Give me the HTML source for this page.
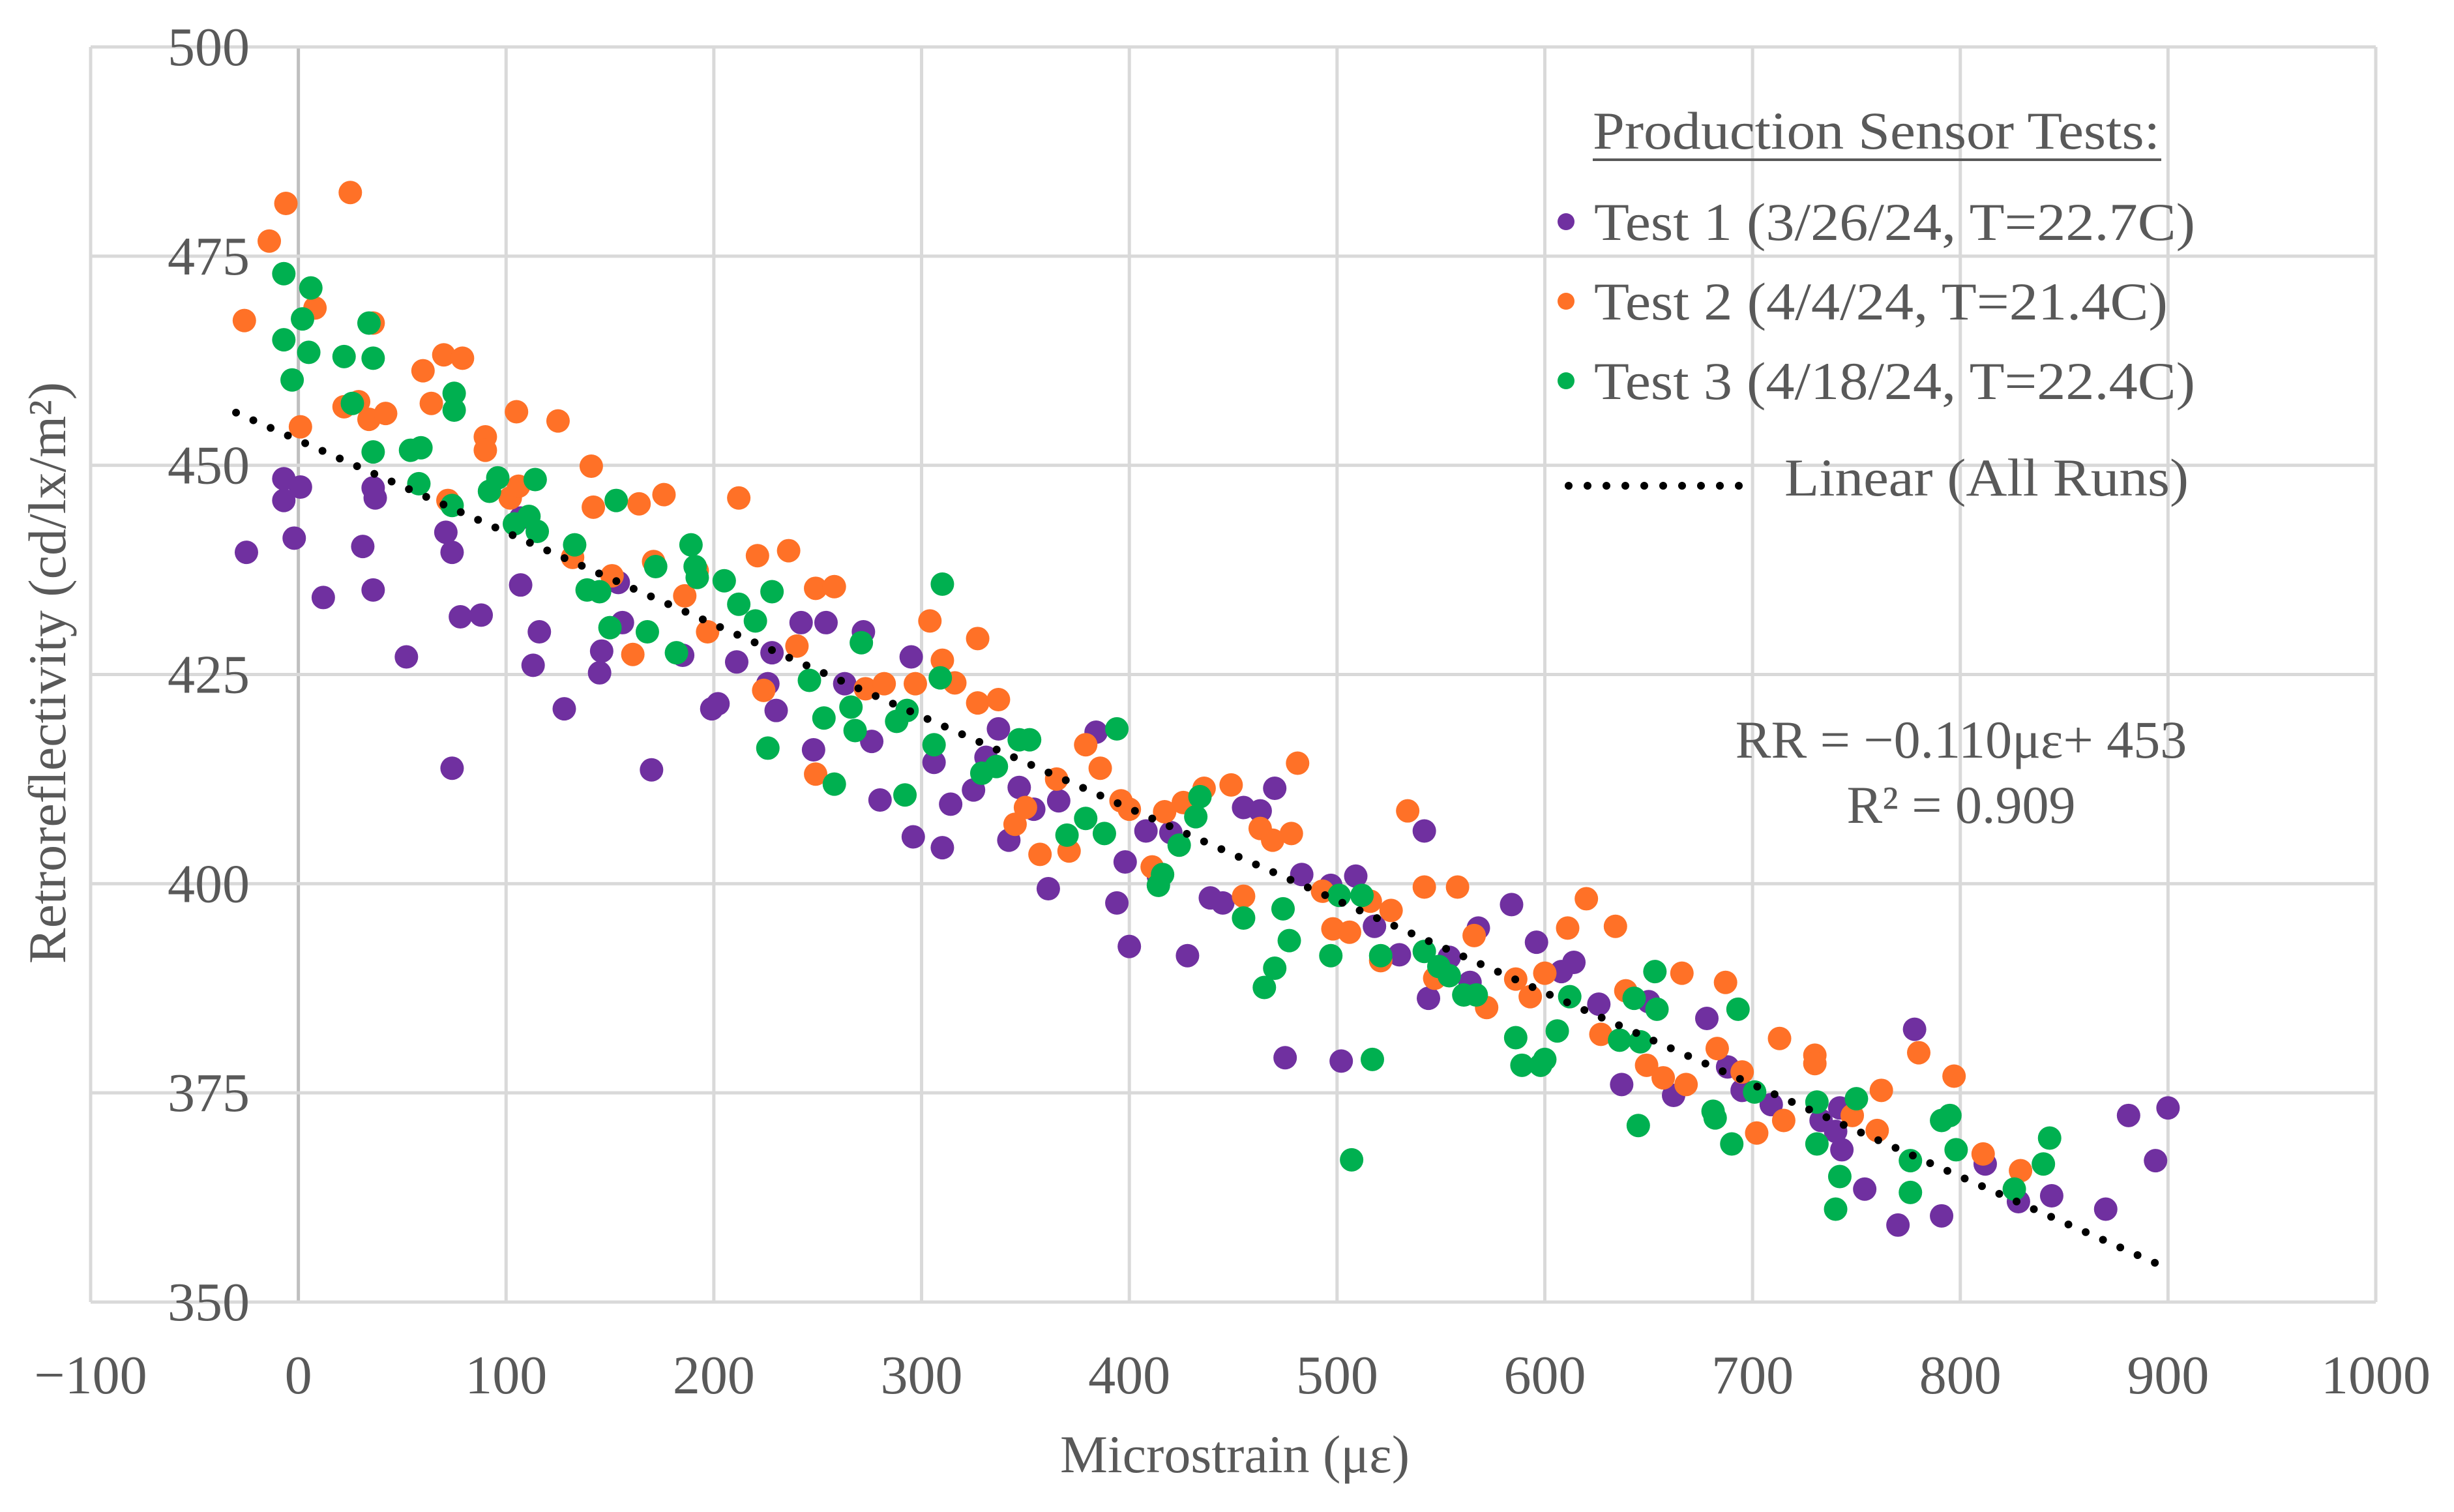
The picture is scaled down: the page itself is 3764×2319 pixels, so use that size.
<!DOCTYPE html>
<html><head><meta charset="utf-8"><style>
html,body{margin:0;padding:0;background:#fff;}
svg{display:block;font-family:"Liberation Serif",serif;}
</style></head>
<body>
<svg id="chart" width="3764" height="2319" viewBox="0 0 3764 2319" xmlns="http://www.w3.org/2000/svg">
<rect width="3764" height="2319" fill="#fff"/>
<g id="grid"></g>
<g id="ticks"></g>
<g id="trend"></g>
<g id="marks"></g>
<text x="0" y="0" transform="translate(100,1032) rotate(-90)" text-anchor="middle" font-size="82" fill="#595959">Retroreflectivity (cd/lx/m²)</text>
<text x="1894" y="2258" text-anchor="middle" font-size="82" fill="#595959">Microstrain (με)</text>
<g>
<text x="2443" y="228" font-size="82" fill="#595959" textLength="870" lengthAdjust="spacingAndGlyphs">Production Sensor Tests:</text>
<rect x="2443" y="243" width="872" height="4" fill="#595959"/>
<circle cx="2402" cy="340" r="13" fill="#7030A0"/>
<text x="2445" y="368" font-size="82" fill="#595959" textLength="922" lengthAdjust="spacingAndGlyphs">Test 1 (3/26/24, T=22.7C)</text>
<circle cx="2402" cy="462" r="13" fill="#FF7127"/>
<text x="2445" y="490" font-size="82" fill="#595959" textLength="880" lengthAdjust="spacingAndGlyphs">Test 2 (4/4/24, T=21.4C)</text>
<circle cx="2402" cy="584" r="13" fill="#00B050"/>
<text x="2445" y="612" font-size="82" fill="#595959" textLength="922" lengthAdjust="spacingAndGlyphs">Test 3 (4/18/24, T=22.4C)</text>
<line x1="2406" y1="745" x2="2676" y2="745" stroke="#000" stroke-width="12" stroke-linecap="round" stroke-dasharray="0 29"/>
<text x="2737" y="760" font-size="82" fill="#595959" textLength="620" lengthAdjust="spacingAndGlyphs">Linear (All Runs)</text>
</g>
<text x="3008" y="1162" text-anchor="middle" font-size="82" fill="#595959">RR = −0.110με+ 453</text>
<text x="3008" y="1262" text-anchor="middle" font-size="82" fill="#595959">R² = 0.909</text>
</svg>
<script>
const xTicks = [-100,0,100,200,300,400,500,600,700,800,900,1000];
const yTicks = [350,375,400,425,450,475,500];
const trendSlope = -0.110;
const trendIntercept = 453;
const trendRange = [-30, 900];

const test1X = [-25,-7,-7,1,-2,12,31,36,36,37,52,71,74,74,78,88,107,107,116,113,128,145,146,156,154,170,185,199,202,211,226,228,230,242,248,254,263,272,276,280,295,296,306,310,314,325,331,337,342,347,354,361,366,384,394,398,400,408,414,420,428,439,445,455,463,470,475,483,497,502,509,518,530,542,544,554,564,568,584,596,608,614,626,637,650,662,678,688,695,709,733,740,742,743,754,770,778,791,812,828,844,870,881,894,900];
const test1Y = [439.6,448.4,445.8,447.4,441.3,434.2,440.3,435.1,447.3,446.1,427.1,442.0,439.6,413.8,431.9,432.1,443.7,435.7,430.1,426.1,420.9,425.2,427.8,431.2,436.0,413.6,427.3,420.9,421.5,426.5,423.9,427.6,420.7,431.2,416.0,431.2,423.9,430.1,417.0,410.0,427.1,405.6,414.5,404.3,409.5,411.2,415.1,418.5,405.2,411.5,408.9,399.4,409.9,418.1,397.7,402.6,392.5,406.3,400.9,406.1,391.4,398.3,397.7,409.1,408.7,411.4,379.2,401.1,399.8,378.8,400.9,394.9,391.5,406.3,386.3,391.2,388.2,394.7,397.5,393.0,389.5,390.6,385.6,376.0,385.9,374.7,383.9,378.1,375.3,373.6,371.7,370.4,373.2,368.2,363.5,359.2,382.6,360.3,366.5,362.0,362.7,361.1,372.3,366.9,373.2,366.1,363.5,364.9];

const test2X = [-26,-14,-6,1,8,25,22,29,34,36,42,60,64,70,79,72,90,90,102,105,106,125,132,141,142,151,161,164,176,171,186,197,192,212,221,224,236,240,249,249,258,273,282,297,304,310,316,327,327,337,345,350,357,365,371,379,386,396,400,411,417,426,436,449,455,463,469,478,481,493,498,506,516,521,526,534,542,547,558,566,572,586,593,600,611,620,627,634,639,649,657,666,668,683,687,695,702,713,715,730,730,748,760,762,780,797,811,829];
const test2Y = [467.3,476.8,481.3,454.6,468.8,482.6,457.0,457.6,455.5,467.0,456.2,461.3,457.4,463.2,462.8,445.8,453.4,451.8,446.1,456.4,447.5,455.3,439.0,449.9,445.0,436.8,427.4,445.4,446.5,438.5,434.4,430.1,437.4,446.1,439.2,423.1,439.8,428.4,435.3,413.1,435.5,423.3,423.9,423.9,431.4,426.7,424.0,429.3,421.6,422.0,407.1,409.1,403.5,412.5,403.9,416.6,413.8,409.9,408.9,402.0,408.6,409.7,411.4,411.8,398.5,406.6,405.2,406.0,414.4,399.1,394.6,394.2,397.9,390.8,396.8,408.7,399.6,388.7,399.6,393.8,385.2,388.6,386.5,389.3,394.7,398.2,382.0,394.9,387.2,378.3,376.8,389.3,376.0,380.3,388.2,377.5,370.2,381.5,371.7,379.5,378.5,372.3,370.5,375.3,379.8,377.0,367.7,365.7];

const test3X = [-7,-7,-3,2,6,5,22,26,34,36,36,54,59,58,74,75,75,92,96,104,111,114,115,133,139,145,150,153,168,172,182,189,191,192,205,212,220,226,228,246,253,258,266,268,271,288,293,292,306,309,310,329,336,347,352,370,379,388,394,414,416,424,432,434,455,465,470,474,477,497,501,512,517,507,521,542,549,554,561,567,586,589,598,600,606,612,636,643,645,646,653,654,681,682,690,693,701,731,731,740,742,750,776,776,791,795,798,826,840,843];
const test3Y = [472.9,465.0,460.2,467.5,471.2,463.5,463.0,457.4,467.0,462.8,451.6,451.8,452.1,447.8,445.2,458.6,456.6,446.9,448.5,443.0,443.9,448.3,442.1,440.5,435.1,434.9,430.6,445.8,430.1,437.9,427.6,440.5,437.9,436.6,436.2,433.4,431.4,416.2,434.9,424.3,419.8,411.9,421.1,418.3,428.8,419.4,420.7,410.6,416.6,424.6,435.8,413.2,414.0,417.2,417.2,405.8,407.8,406.0,418.5,399.8,401.1,404.6,408.0,410.4,395.9,387.6,389.9,397.0,393.2,391.4,398.6,398.6,379.0,367.0,391.4,391.9,390.1,389.0,386.7,386.7,381.6,378.3,378.3,379.0,382.4,386.5,381.3,386.3,371.1,381.1,389.5,385.0,372.8,372.0,368.9,385.0,375.1,373.9,368.9,361.1,365.0,374.3,366.9,363.1,371.7,372.3,368.2,363.5,366.5,369.6];

const NS = 'http://www.w3.org/2000/svg';
const X0 = 139, X1 = 3644, Y0 = 1997, Y1 = 72;
const xMin = -100, xMax = 1000, yMin = 350, yMax = 500;
function sx(v){ return X0 + (v - xMin) / (xMax - xMin) * (X1 - X0); }
function sy(v){ return Y0 - (v - yMin) / (yMax - yMin) * (Y0 - Y1); }
function mk(tag, attrs, parent){
  const e = document.createElementNS(NS, tag);
  for (const k in attrs) e.setAttribute(k, attrs[k]);
  parent.appendChild(e);
  return e;
}
const grid = document.getElementById('grid');
const ticks = document.getElementById('ticks');
xTicks.forEach(t => {
  const l = mk('line', {x1: sx(t), x2: sx(t), y1: Y1, y2: Y0, stroke: t === 0 ? '#bfbfbf' : '#d9d9d9', 'stroke-width': 5}, grid);
  
  
  const tx = mk('text', {x: sx(t), y: 2137, 'text-anchor': 'middle', 'font-size': 84, fill: '#595959'}, ticks);
  tx.textContent = t < 0 ? '−' + Math.abs(t) : String(t);
  
  
});
yTicks.forEach(t => {
  const l = mk('line', {x1: X0, x2: X1, y1: sy(t), y2: sy(t), stroke: '#d9d9d9', 'stroke-width': 5}, grid);
  
  
  const tx = mk('text', {x: 383, y: sy(t) + 28, 'text-anchor': 'end', 'font-size': 84, fill: '#595959'}, ticks);
  tx.textContent = String(t);
  
  
});
const marks = document.getElementById('marks');
function series(xs, ys, color, name){
  const g = mk('g', {fill: color}, marks);
  
  
  for (let i = 0; i < xs.length; i++){
    const c = mk('circle', {cx: sx(xs[i]), cy: sy(ys[i]), r: 18}, g);
    
    
  }
}
series(test1X, test1Y, '#7030A0', 'test1-series');
series(test2X, test2Y, '#FF7127', 'test2-series');
series(test3X, test3Y, '#00B050', 'test3-series');
const tl = mk('line', {x1: sx(trendRange[0]), y1: sy(trendSlope*trendRange[0]+trendIntercept), x2: sx(trendRange[1]), y2: sy(trendSlope*trendRange[1]+trendIntercept), stroke: '#000', 'stroke-width': 12, 'stroke-linecap': 'round', 'stroke-dasharray': '0 29'}, document.getElementById('chart'));


</script>
</body></html>
